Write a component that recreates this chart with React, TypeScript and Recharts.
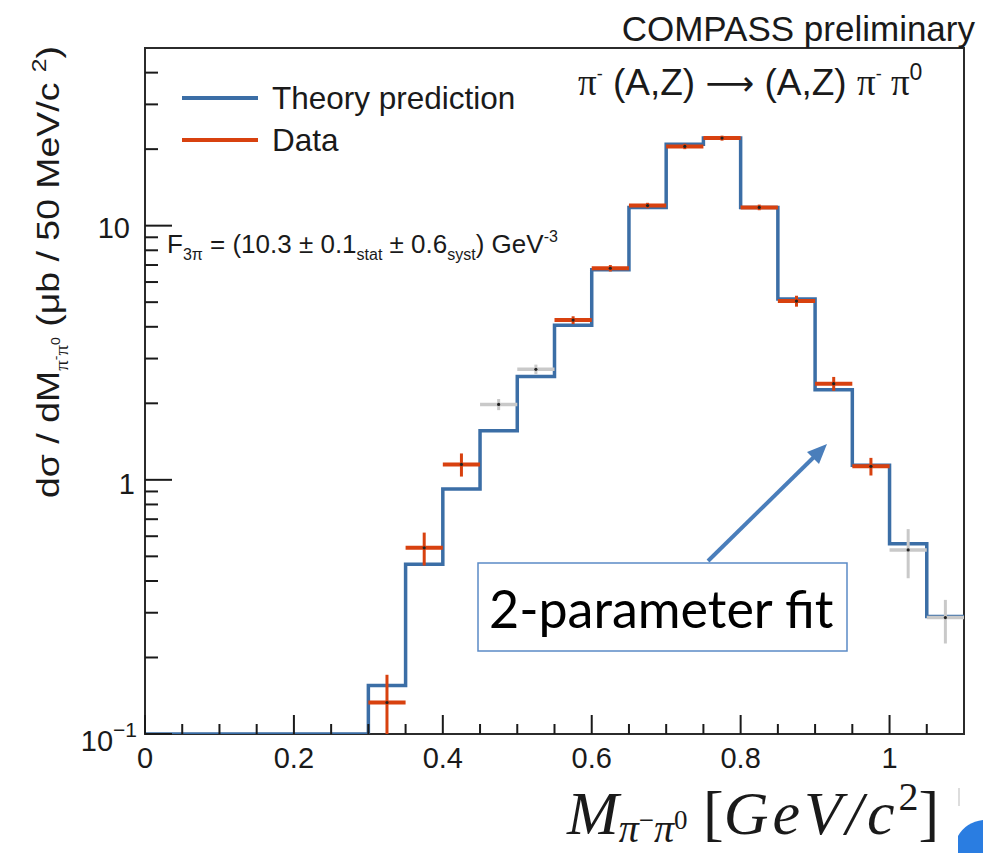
import {
  ComposedChart,
  Line,
  Scatter,
  ErrorBar,
  XAxis,
  YAxis,
  ReferenceArea,
} from "recharts";

// theory histogram: 50 MeV bins, value per bin (empty bins sit on the axis floor)
const BIN_LOW = [
  0, 0.05, 0.1, 0.15, 0.2, 0.25, 0.3, 0.35, 0.4, 0.45, 0.5,
  0.55, 0.6, 0.65, 0.7, 0.75, 0.8, 0.85, 0.9, 0.95, 1.0, 1.05,
];
const THEORY = [
  0.1, 0.1, 0.1, 0.1, 0.1, 0.1, 0.155, 0.465, 0.92, 1.56, 2.55,
  4.06, 6.7, 11.8, 20.9, 22.1, 11.8, 5.15, 2.26, 1.14, 0.56, 0.29,
];
const X_END = 1.1;
const HALF_BIN = 0.025;

// data points used in the fit (red)
const RED_X = [0.325, 0.375, 0.425, 0.575, 0.625, 0.675, 0.725, 0.775, 0.825, 0.875, 0.925, 0.975];
const RED_Y = [0.133, 0.54, 1.15, 4.25, 6.8, 12.0, 20.5, 22.1, 11.8, 5.05, 2.39, 1.13];
const RED_LO = [0.033, 0.08, 0.12, 0.15, 0.2, 0.3, 0.5, 0.5, 0.3, 0.25, 0.15, 0.09];
const RED_HI = [0.038, 0.08, 0.12, 0.15, 0.2, 0.3, 0.5, 0.5, 0.3, 0.25, 0.15, 0.09];

// data points outside the fit (grey)
const GRAY_X = [0.475, 0.525, 1.025, 1.075];
const GRAY_Y = [1.98, 2.72, 0.53, 0.287];
const GRAY_LO = [0.1, 0.12, 0.12, 0.06];
const GRAY_HI = [0.1, 0.12, 0.11, 0.05];

const X_TICKS = [
  0, 0.05, 0.1, 0.15, 0.2, 0.25, 0.3, 0.35, 0.4, 0.45, 0.5,
  0.55, 0.6, 0.65, 0.7, 0.75, 0.8, 0.85, 0.9, 0.95, 1.0, 1.05,
];
const X_LABELS = ["0", "0.2", "0.4", "0.6", "0.8", "1"];
const Y_TICKS = [
  0.1, 0.2, 0.3, 0.4, 0.5, 0.6, 0.7, 0.8, 0.9,
  1, 2, 3, 4, 5, 6, 7, 8, 9,
  10, 20, 30, 40,
];

const BLUE = "#3b6ea6";
const RED = "#d8410f";
const GREY = "#c9c9c9";
const INK = "#1a1a1a";
const SANS = "'Liberation Sans', Arial, sans-serif";
const SERIF = "'Liberation Serif', 'Times New Roman', serif";

const theoryData = BIN_LOW.map((x, i) => ({ x, theory: THEORY[i] })).concat([
  { x: X_END, theory: THEORY[THEORY.length - 1] },
]);
const redData = RED_X.map((x, i) => ({ x, y: RED_Y[i], ex: HALF_BIN, ey: [RED_LO[i], RED_HI[i]] }));
const grayData = GRAY_X.map((x, i) => ({ x, y: GRAY_Y[i], ex: HALF_BIN, ey: [GRAY_LO[i], GRAY_HI[i]] }));

function XTick(props: any) {
  const { x, y, payload } = props;
  const v = payload.value;
  const idx = Math.round(v / 0.2);
  const isMajor = Math.abs(v - idx * 0.2) < 1e-6;
  return (
    <g>
      <line x1={x} x2={x} y1={y} y2={y - (isMajor ? 19 : 10)} stroke={INK} strokeWidth={2} />
      {isMajor && (
        <text x={x} y={y + 34} textAnchor="middle" fontFamily={SANS} fontSize={29} fill={INK}>
          {X_LABELS[idx]}
        </text>
      )}
    </g>
  );
}

function YTick(props: any) {
  const { x, y, payload } = props;
  const v = payload.value;
  const isMajor = v === 0.1 || v === 1 || v === 10;
  return (
    <g>
      <line x1={x} x2={x + (isMajor ? 27 : 13)} y1={y} y2={y} stroke={INK} strokeWidth={2} />
      {v === 10 && (
        <text x={x - 15} y={y + 12} textAnchor="end" fontFamily={SANS} fontSize={29} fill={INK}>10</text>
      )}
      {v === 1 && (
        <text x={x - 10} y={y + 14} textAnchor="end" fontFamily={SANS} fontSize={29} fill={INK}>1</text>
      )}
      {v === 0.1 && (
        <text x={x - 8} y={y + 17} textAnchor="end" fontFamily={SANS} fontSize={29} fill={INK}>
          10<tspan dy={-14} fontSize={21}>−1</tspan>
        </text>
      )}
    </g>
  );
}

function Dot(props: any) {
  return <circle cx={props.cx} cy={props.cy} r={1.6} fill="#222" />;
}

function Annotations() {
  return (
    <svg
      width={983}
      height={853}
      style={{ position: "absolute", left: 0, top: 0, pointerEvents: "none" }}
    >
      <text x={975} y={41} textAnchor="end" fontFamily={SANS} fontSize={35} fill={INK}>
        COMPASS preliminary
      </text>

      <text x={578} y={95} fontFamily={SANS} fontSize={37} fill={INK}>
        <tspan fontFamily={SERIF}>π</tspan>
        <tspan dy={-15} fontSize={18}>-</tspan>
        <tspan dy={15}>{" (A,Z) "}</tspan>
        <tspan fontFamily="'DejaVu Sans', sans-serif" fontSize={34}>⟶</tspan>
        <tspan>{" (A,Z) "}</tspan>
        <tspan fontFamily={SERIF}>π</tspan>
        <tspan dy={-15} fontSize={18}>-</tspan>
        <tspan dy={15} fontFamily={SERIF}>{" π"}</tspan>
        <tspan dy={-15} fontSize={23}>0</tspan>
      </text>

      <line x1={182} x2={258} y1={98} y2={98} stroke={BLUE} strokeWidth={4} />
      <text x={272} y={109} fontFamily={SANS} fontSize={31.5} fill={INK}>Theory prediction</text>
      <line x1={182} x2={258} y1={140} y2={140} stroke={RED} strokeWidth={4} />
      <text x={272} y={151} fontFamily={SANS} fontSize={31.5} fill={INK}>Data</text>

      <text x={167} y={253} fontFamily={SANS} fontSize={26} fill={INK}>
        F<tspan dy={7} fontSize={16}>3π</tspan>
        <tspan dy={-7} fontSize={26}>{" = (10.3 ± 0.1"}</tspan>
        <tspan dy={7} fontSize={16}>stat</tspan>
        <tspan dy={-7} fontSize={26}>{" ± 0.6"}</tspan>
        <tspan dy={7} fontSize={16}>syst</tspan>
        <tspan dy={-7} fontSize={26}>{") GeV"}</tspan>
        <tspan dy={-11} fontSize={16}>-3</tspan>
      </text>

      <text
        transform="translate(59,272) rotate(-90) scale(1.17,1)"
        textAnchor="middle"
        fontFamily={SANS}
        fontSize={32}
        fill={INK}
      >
        dσ / dM
        <tspan dy={9} fontSize={18} fontFamily={SERIF}>π</tspan>
        <tspan dy={-8} fontSize={12}>-</tspan>
        <tspan dy={8} fontSize={18} fontFamily={SERIF}>π</tspan>
        <tspan dy={-8} fontSize={12}>0</tspan>
        <tspan dy={-1} fontSize={32}>{" (μb / 50 MeV/c "}</tspan>
        <tspan dy={-13} fontSize={21}>2</tspan>
        <tspan dy={13} fontSize={32}>)</tspan>
      </text>

      <text x={567} y={834} fontFamily={SERIF} fontStyle="italic" fontSize={62} fill={INK}>
        M
        <tspan dy={8} fontSize={40}>π</tspan>
        <tspan dy={-13} fontSize={27} fontStyle="normal">−</tspan>
        <tspan dy={13} fontSize={40}>π</tspan>
        <tspan dy={-13} fontSize={27} fontStyle="normal">0</tspan>
        <tspan dy={5} fontSize={62} fontStyle="normal">{" ["}</tspan>
        <tspan fontSize={62} letterSpacing={4}>GeV/c</tspan>
        <tspan dy={-24} fontSize={40} fontStyle="normal">2</tspan>
        <tspan dy={24} fontSize={62} fontStyle="normal">]</tspan>
      </text>

      {/* callout */}
      <line x1={708} y1={561} x2={816} y2={455} stroke="#4a7ebb" strokeWidth={4} />
      <polygon points="827,444 807,452 819,464" fill="#4a7ebb" />
      <rect x={478} y={563} width={369} height={88} fill="#fff" stroke="#5b8ac6" strokeWidth={1.5} />
      <text x={489} y={628} fontFamily="Lato, 'Open Sans', sans-serif" fontSize={52} fill="#000">
        2-parameter fit
      </text>

      <line x1={959} x2={959} y1={788} y2={806} stroke="#bbb" strokeWidth={1} />
      <path d="M958,853 L958,836 Q966,822 983,820 L983,853 Z" fill="#2a7de1" />
    </svg>
  );
}

export default function App() {
  return (
    <div style={{ position: "absolute", left: 0, top: 0, width: 983, height: 853, background: "#fff" }}>
      <ComposedChart width={983} height={853} margin={{ top: 48, right: 19, bottom: 0, left: 0 }}>
        <XAxis
          type="number"
          dataKey="x"
          domain={[0, X_END]}
          ticks={X_TICKS}
          interval={0}
          height={119}
          tickSize={0}
          tickMargin={0}
          tickLine={false}
          axisLine={false}
          allowDataOverflow
          tick={XTick}
        />
        <YAxis
          type="number"
          scale="log"
          domain={[0.1, 50]}
          ticks={Y_TICKS}
          interval={0}
          width={145}
          tickSize={0}
          tickMargin={0}
          tickLine={false}
          axisLine={false}
          allowDataOverflow
          tick={YTick}
        />
        <ReferenceArea
          x1={0}
          x2={X_END}
          y1={0.1}
          y2={50}
          fill="none"
          fillOpacity={0}
          stroke="#2b2b2b"
          strokeWidth={2}
        />
        <Line
          data={theoryData}
          dataKey="theory"
          type="stepAfter"
          stroke={BLUE}
          strokeWidth={3.5}
          dot={false}
          isAnimationActive={false}
        />
        <Scatter data={grayData} dataKey="y" shape={Dot} isAnimationActive={false}>
          <ErrorBar dataKey="ey" direction="y" width={0} stroke={GREY} strokeWidth={3} />
          <ErrorBar dataKey="ex" direction="x" width={0} stroke={GREY} strokeWidth={3.5} />
        </Scatter>
        <Scatter data={redData} dataKey="y" shape={Dot} isAnimationActive={false}>
          <ErrorBar dataKey="ey" direction="y" width={0} stroke={RED} strokeWidth={3} />
          <ErrorBar dataKey="ex" direction="x" width={0} stroke={RED} strokeWidth={4} />
        </Scatter>
      </ComposedChart>
      <Annotations />
    </div>
  );
}
